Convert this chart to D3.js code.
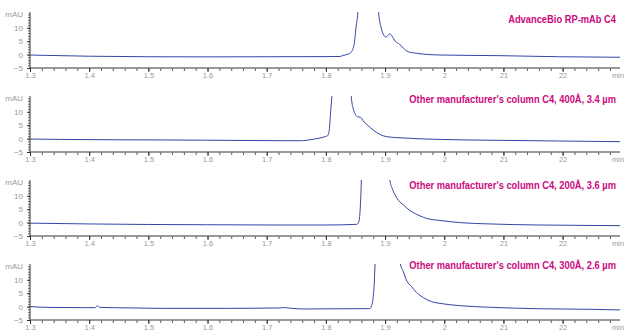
<!DOCTYPE html>
<html>
<head>
<meta charset="utf-8">
<script src="https://cdn.jsdelivr.net/npm/d3@7"></script>
<style>
  html, body { margin: 0; padding: 0; background: #fff; }
  svg { display: block; }
</style>
</head>
<body>
<svg id="chart" width="626" height="331"></svg>
<script>
// ---------------- DATA ----------------
const xTickValues = [13, 14, 15, 16, 17, 18, 19, 20, 21, 22];
const xTickLabels = ["1.3", "1.4", "1.5", "1.6", "1.7", "1.8", "1.9", "2", "21", "22"];
const yTickValues = [-5, 0, 5, 10];
const yUnit = "mAU";
const xUnit = "min";

const titles = [
  "AdvanceBio RP-mAb C4",
  "Other manufacturer's column C4, 400Å, 3.4 µm",
  "Other manufacturer's column C4, 200Å, 3.6 µm",
  "Other manufacturer's column C4, 300Å, 2.6 µm"
];

const times1 = [13.0, 13.3, 14.0, 15.0, 16.0, 17.0, 18.0, 18.24, 18.29, 18.38, 18.43, 18.48, 18.51, 18.54, 18.70, 18.89, 18.93, 18.97, 19.01, 19.08, 19.14, 19.18, 19.24, 19.31, 19.39, 19.53, 19.93, 20.94, 21.95, 22.99];
const values1 = [-0.15, -0.3, -0.6, -0.8, -0.85, -0.8, -0.75, -0.7, -0.3, 0.2, 1.0, 4.2, 10.4, 15.8, 200, 16, 10.4, 7.6, 6.5, 7.7, 6.1, 4.8, 4.0, 2.35, 1.1, 0.5, -0.15, -0.4, -0.8, -1.0];

const times2 = [13.0, 13.5, 14.5, 15.2, 16.0, 17.0, 17.56, 17.81, 17.95, 18.03, 18.06, 18.08, 18.10, 18.26, 18.43, 18.46, 18.49, 18.53, 18.59, 18.63, 18.70, 18.80, 18.91, 19.03, 19.25, 19.93, 20.94, 21.95, 22.99];
const values2 = [-0.15, -0.3, -0.45, -0.5, -0.6, -0.75, -0.8, -0.15, 0.5, 1.1, 3.8, 10, 15.6, 200, 15.6, 11.3, 9.4, 8.2, 7.9, 6.6, 5.1, 3.2, 1.6, 0.7, 0.3, -0.3, -0.65, -0.9, -1.15];

const times3 = [13.0, 14.0, 15.0, 16.0, 17.22, 18.0, 18.52, 18.55, 18.57, 18.59, 18.60, 18.84, 19.08, 19.12, 19.17, 19.23, 19.31, 19.39, 19.48, 19.59, 19.70, 19.93, 20.26, 20.77, 21.61, 22.17, 22.99];
const values3 = [-0.2, -0.5, -0.7, -0.8, -0.9, -0.9, -0.65, 0, 2.2, 9.7, 15.9, 200, 15.9, 12.8, 10.3, 8.2, 6.6, 5.0, 3.7, 2.5, 1.6, 0.8, 0, -0.5, -0.9, -1.0, -1.15];

const times4 = [13.0, 13.34, 13.9, 14.1, 14.14, 14.18, 14.75, 15.2, 16.32, 17.22, 17.28, 17.4, 17.62, 17.9, 18.74, 18.77, 18.80, 18.82, 18.83, 19.05, 19.26, 19.31, 19.36, 19.45, 19.53, 19.65, 19.79, 19.93, 20.26, 20.77, 21.61, 22.46, 22.99];
const values4 = [0, -0.3, -0.4, -0.4, 0.3, -0.3, -0.5, -0.65, -0.65, -0.5, -0.35, -0.6, -0.9, -0.85, -0.75, 0.2, 3.7, 9.9, 15.5, 200, 15.9, 13, 9.9, 7.4, 5.3, 3.3, 1.8, 1.2, 0.35, -0.25, -0.8, -1.0, -1.25];

const seriesTimes = [times1, times2, times3, times4];
const seriesValues = [values1, values2, values3, values4];

// ---------------- LAYOUT ----------------
const left = 30, right = 620;
const axisYs = [68, 152, 236, 320];
const panelHeight = 56;
const titleBaselines = [22.5, 103, 189, 269];
const titleWidths = [108, 207, 207, 207];
const lineColor = "#3346a6";
const titleColor = "#cc0a7e";
const labelColor = "#9a9a9a";
const fontFam = "Liberation Sans Narrow, Arial Narrow, Liberation Sans, sans-serif";

const svg = d3.select("#chart");

const x = d3.scaleLinear().domain([13, 22.97]).range([left, right]);
const minorX = d3.range(13, 22.97, 0.2);

const line = d3.line()
  .x(d => x(d[0]))
  .y(d => d[2](d[1]))
  .curve(d3.curveMonotoneX);

axisYs.forEach((axisY, i) => {
  const y = d3.scaleLinear().domain([-5, 15.9]).range([axisY, axisY - panelHeight]);
  const g = svg.append("g");

  const clipId = "clip" + i;
  svg.append("clipPath").attr("id", clipId)
    .append("rect")
    .attr("x", left).attr("y", axisY - panelHeight)
    .attr("width", right - left).attr("height", panelHeight);

  const pts = seriesTimes[i].map((t, k) => [t, seriesValues[i][k], y]);
  g.append("path")
    .attr("clip-path", `url(#${clipId})`)
    .attr("d", line(pts))
    .attr("fill", "none")
    .attr("stroke", lineColor)
    .attr("stroke-width", 1);

  const xAxisMinor = d3.axisBottom(x).tickValues(minorX).tickSize(3).tickFormat("");
  const gxm = g.append("g").attr("transform", `translate(0,${axisY})`).call(xAxisMinor);
  gxm.select(".domain").remove();
  gxm.selectAll(".tick line").attr("stroke", "#333").attr("stroke-width", 0.8);

  const xAxis = d3.axisBottom(x).tickValues(xTickValues).tickSize(4)
    .tickFormat((d, k) => xTickLabels[k]);
  const gx = g.append("g").attr("transform", `translate(0,${axisY})`).call(xAxis);
  gx.select(".domain").attr("stroke", "#777").attr("stroke-width", 1.4)
    .attr("d", `M${left},0H${right}`);
  gx.selectAll(".tick line").attr("stroke", "#333").attr("stroke-width", 1);
  gx.selectAll(".tick text")
    .attr("y", 4.5).attr("dy", "0.71em")
    .attr("fill", labelColor)
    .attr("font-family", fontFam)
    .attr("font-size", 7.5);

  g.append("text")
    .attr("x", 612).attr("y", axisY + 10)
    .attr("fill", labelColor)
    .attr("font-family", fontFam)
    .attr("font-size", 7.5)
    .text(xUnit);

  const yMinor = d3.axisLeft(y).tickValues(d3.range(-5, 16, 1)).tickSize(2).tickFormat("");
  const gym = g.append("g").attr("transform", `translate(${left},0)`).call(yMinor);
  gym.select(".domain").remove();
  gym.selectAll(".tick line").attr("stroke", "#333").attr("stroke-width", 0.7);

  const yAxis = d3.axisLeft(y).tickValues(yTickValues).tickSize(3).tickPadding(4);
  const gy = g.append("g").attr("transform", `translate(${left},0)`).call(yAxis);
  gy.select(".domain").attr("stroke", "#333").attr("stroke-width", 1)
    .attr("d", `M0,${axisY}V${axisY - panelHeight}`);
  gy.selectAll(".tick line").attr("stroke", "#333");
  gy.selectAll(".tick text")
    .attr("fill", labelColor)
    .attr("font-family", fontFam)
    .attr("font-size", 8);

  g.append("text")
    .attr("x", 23).attr("y", axisY - panelHeight + 5)
    .attr("text-anchor", "end")
    .attr("fill", labelColor)
    .attr("font-family", fontFam)
    .attr("font-size", 8)
    .text(yUnit);

  const tg = g.append("g");
  const tt = tg.append("text")
    .attr("x", 0).attr("y", 0)
    .attr("text-anchor", "end")
    .attr("fill", titleColor)
    .attr("font-family", fontFam)
    .attr("font-weight", "bold")
    .attr("font-size", 10.5)
    .text(titles[i]);
  const natural = tt.node().getComputedTextLength() || titleWidths[i];
  const sx = Math.min(1, titleWidths[i] / natural);
  tg.attr("transform", `translate(616,${titleBaselines[i]}) scale(${sx},1)`);
});
</script>
</body>
</html>
